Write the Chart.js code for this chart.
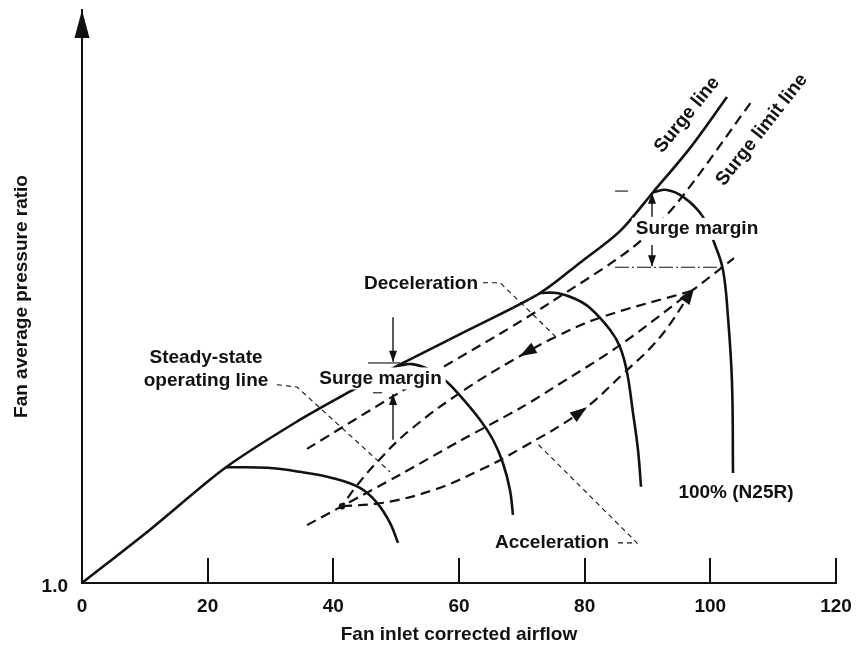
<!DOCTYPE html>
<html>
<head>
<meta charset="utf-8">
<script src="https://cdn.jsdelivr.net/npm/chart.js@4.4.1/dist/chart.umd.min.js"></script>
<style>
  html, body { margin: 0; padding: 0; background: #ffffff; }
  canvas { display: block; }
</style>
</head>
<body>
<canvas id="fanMap" width="858" height="648"></canvas>
<script>
// ---- axis ticks ----
const xTickValues = [0, 20, 40, 60, 80, 100, 120];
const yTickValues = [1.0];
const yTickLabels = ['1.0'];

// ---- map curves: [corrected airflow, pressure ratio] ----
const surgeLine = [
  [0, 1.000], [10.82, 1.093], [22.92, 1.202], [34.70, 1.285], [43.13, 1.337],
  [51.09, 1.384], [61.75, 1.443], [72.89, 1.506], [79.26, 1.559], [85.62, 1.614],
  [90.88, 1.682], [96.76, 1.759], [102.65, 1.848]
];
const surgeLimitLine = [
  [35.81, 1.234], [50.61, 1.333], [66.53, 1.435], [74.48, 1.489],
  [87.69, 1.586], [94.70, 1.663], [106.47, 1.839]
];
const operatingLine = [
  [35.81, 1.101], [41.38, 1.134], [50.61, 1.189], [60.16, 1.248], [69.71, 1.305],
  [74.48, 1.337], [85.62, 1.415], [97.08, 1.510], [103.77, 1.567]
];
const decelPath = [
  [97.08, 1.510], [82.44, 1.463], [75.28, 1.429], [70.82, 1.403], [61.27, 1.340],
  [52.20, 1.267], [46.95, 1.211], [43.45, 1.166], [41.38, 1.134]
];
const accelPath = [
  [41.38, 1.134], [47.90, 1.140], [55.86, 1.162], [63.34, 1.197], [69.71, 1.234],
  [79.26, 1.298], [86.10, 1.365], [91.99, 1.429], [97.08, 1.510]
];
const speedLow = [
  [22.92, 1.202], [29.44, 1.201], [34.70, 1.194], [39.95, 1.183], [44.24, 1.166],
  [46.95, 1.140], [49.02, 1.105], [50.29, 1.070]
];
const speedMid = [
  [50.29, 1.379], [52.52, 1.382], [55.39, 1.372], [57.77, 1.354], [59.68, 1.333],
  [63.34, 1.285], [65.41, 1.250], [67.00, 1.209], [68.12, 1.162], [68.59, 1.119]
];
const speedHigh = [
  [72.89, 1.506], [75.60, 1.506], [78.46, 1.496], [80.85, 1.480], [84.03, 1.442],
  [85.62, 1.412], [86.74, 1.368], [87.69, 1.297], [88.49, 1.232], [88.97, 1.168]
];
const speed100 = [
  [90.88, 1.682], [93.10, 1.686], [95.65, 1.674], [98.83, 1.639], [100.74, 1.590],
  [102.02, 1.546], [102.81, 1.464], [103.45, 1.349], [103.61, 1.192]
];

// ---- annotations (data units) ----
const labels = [
  { lines: ['Surge line'], x: 96.3, y: 1.817, rot: -51 },
  { lines: ['Surge limit line'], x: 108.2, y: 1.791, rot: -52 },
  { lines: ['Surge margin'], x: 97.88, y: 1.618, boxed: true },
  { lines: ['Surge margin'], x: 47.51, y: 1.357, boxed: true },
  { lines: ['Deceleration'], x: 53.95, y: 1.522 },
  { lines: ['Steady-state', 'operating line'], x: 19.74, y: 1.373 },
  { lines: ['Acceleration'], x: 74.80, y: 1.070 },
  { lines: ['100% (N25R)'], x: 104.08, y: 1.157 }
];
const marginArrows = [
  [[49.50, 1.464], [49.50, 1.386]],
  [[49.50, 1.250], [49.50, 1.330]],
  [[90.72, 1.639], [90.72, 1.681]],
  [[90.72, 1.590], [90.72, 1.553]]
];
const marginRefs = [
  [[45.52, 1.384], [50.61, 1.384]],
  [[46.31, 1.332], [47.75, 1.332]],
  [[84.83, 1.684], [86.90, 1.684]]
];
const marginDashDot = [[84.83, 1.551], [102.02, 1.551]];
const leaders = [
  [[63.82, 1.524], [66.53, 1.524], [75.28, 1.431]],
  [[31.03, 1.346], [34.22, 1.342], [49.02, 1.194]],
  [[85.31, 1.070], [88.33, 1.070], [72.41, 1.244]]
];
// arrowheads along the transient paths: centred at "at", or tip at "at" when tip is set
const pathArrows = [
  { path: decelPath, from: 2, at: 3, to: 4 },
  { path: accelPath, from: 4, at: 5, to: 6 },
  { path: accelPath, from: 7, at: 8, to: 8, tip: true }
];
const idlePoint = [41.38, 1.134];

const INK = '#111111';
const FONT_FAMILY = '"Liberation Sans", Arial, Helvetica, sans-serif';
Chart.defaults.font.family = FONT_FAMILY;
Chart.defaults.font.size = 19;
Chart.defaults.font.weight = 'bold';
Chart.defaults.color = INK;

const toPts = arr => arr.map(([x, y]) => ({ x, y }));
const solid = (data, tension) => ({
  data: toPts(data), showLine: true, borderColor: INK, borderWidth: 2.6,
  pointRadius: 0, fill: false, tension: tension
});
const dashed = (data, tension) => ({
  data: toPts(data), showLine: true, borderColor: INK, borderWidth: 2.2,
  borderDash: [10, 6], pointRadius: 0, fill: false, tension: tension
});

const overlay = {
  id: 'overlay',
  afterDraw(chart) {
    const { ctx, chartArea: area, scales: { x, y } } = chart;
    const P = ([vx, vy]) => [x.getPixelForValue(vx), y.getPixelForValue(vy)];
    ctx.save();
    ctx.strokeStyle = INK;
    ctx.fillStyle = INK;

    // inward tick marks on the airflow axis
    ctx.lineWidth = 2;
    xTickValues.forEach(v => {
      if (v === 0) return;
      const px = Math.round(x.getPixelForValue(v));
      ctx.beginPath();
      ctx.moveTo(px, area.bottom);
      ctx.lineTo(px, area.bottom - 25);
      ctx.stroke();
    });

    // arrowhead on the pressure-ratio axis
    const ax = x.getPixelForValue(0);
    ctx.beginPath();
    ctx.moveTo(ax, area.top);
    ctx.lineTo(ax - 7.5, area.top + 28);
    ctx.lineTo(ax + 7.5, area.top + 28);
    ctx.closePath();
    ctx.fill();

    const head = (tx, ty, ang, len, half) => {
      ctx.save();
      ctx.translate(tx, ty);
      ctx.rotate(ang);
      ctx.beginPath();
      ctx.moveTo(0, 0);
      ctx.lineTo(-len, -half);
      ctx.lineTo(-len, half);
      ctx.closePath();
      ctx.fill();
      ctx.restore();
    };

    // arrowheads along acceleration / deceleration paths
    pathArrows.forEach(a => {
      const [fx, fy] = P(a.path[a.from]);
      const [cx, cy] = P(a.path[a.at]);
      const [tx, ty] = P(a.path[a.to]);
      const ang = Math.atan2(ty - fy, tx - fx);
      const len = 17, half = 6;
      if (a.tip) head(cx + 4 * Math.cos(ang), cy + 4 * Math.sin(ang), ang, len, half);
      else head(cx + len / 2 * Math.cos(ang), cy + len / 2 * Math.sin(ang), ang, len, half);
    });

    // idle operating point
    const [dx, dy] = P(idlePoint);
    ctx.beginPath();
    ctx.arc(dx, dy, 3.2, 0, Math.PI * 2);
    ctx.fill();

    // thin leader lines
    ctx.lineWidth = 1.1;
    ctx.setLineDash([5, 4]);
    leaders.forEach(seg => {
      ctx.beginPath();
      seg.forEach((p, i) => {
        const [px, py] = P(p);
        if (i === 0) ctx.moveTo(px, py); else ctx.lineTo(px, py);
      });
      ctx.stroke();
    });

    // dash-dot reference for the upper surge margin
    ctx.setLineDash([14, 3, 2, 3]);
    ctx.beginPath();
    ctx.moveTo(...P(marginDashDot[0]));
    ctx.lineTo(...P(marginDashDot[1]));
    ctx.stroke();
    ctx.setLineDash([]);

    // short reference ticks
    marginRefs.forEach(([a, b]) => {
      ctx.beginPath();
      ctx.moveTo(...P(a));
      ctx.lineTo(...P(b));
      ctx.stroke();
    });

    // text labels
    ctx.font = 'bold 19px ' + FONT_FAMILY;
    ctx.textAlign = 'center';
    ctx.textBaseline = 'middle';
    labels.forEach(l => {
      const [cx, cy] = P([l.x, l.y]);
      const lh = 23;
      ctx.save();
      ctx.translate(cx, cy);
      if (l.rot) ctx.rotate(l.rot * Math.PI / 180);
      if (l.boxed) {
        const w = Math.max(...l.lines.map(t => ctx.measureText(t).width));
        ctx.fillStyle = '#ffffff';
        ctx.fillRect(-w / 2 - 4, -11, w + 8, 22);
        ctx.fillStyle = INK;
      }
      const y0 = -(l.lines.length - 1) * lh / 2;
      l.lines.forEach((t, i) => ctx.fillText(t, 0, y0 + i * lh));
      ctx.restore();
    });

    // surge margin arrows
    ctx.lineWidth = 1.4;
    marginArrows.forEach(([a, b]) => {
      const [x1, y1] = P(a);
      const [x2, y2] = P(b);
      ctx.beginPath();
      ctx.moveTo(x1, y1);
      ctx.lineTo(x2, y2);
      ctx.stroke();
      head(x2, y2, Math.atan2(y2 - y1, x2 - x1), 11, 4);
    });

    ctx.restore();
  }
};

new Chart(document.getElementById('fanMap'), {
  type: 'scatter',
  data: {
    datasets: [
      solid(surgeLine, 0.3),
      solid(speedLow, 0.4),
      solid(speedMid, 0.4),
      solid(speedHigh, 0.4),
      solid(speed100, 0.4),
      dashed(surgeLimitLine, 0.3),
      dashed(operatingLine, 0.3),
      dashed(decelPath, 0.4),
      dashed(accelPath, 0.4)
    ]
  },
  options: {
    responsive: false,
    animation: false,
    events: [],
    layout: { padding: { left: 0, right: 22, top: 10, bottom: 0 } },
    plugins: { legend: { display: false }, tooltip: { enabled: false } },
    scales: {
      x: {
        type: 'linear', min: 0, max: 120,
        afterBuildTicks: s => { s.ticks = xTickValues.map(v => ({ value: v })); },
        afterFit: s => { s.height = 65; s.paddingLeft = 0; s.paddingRight = 0; },
        ticks: { padding: 12, color: INK, maxRotation: 0 },
        grid: { display: false, drawTicks: false },
        border: { display: true, color: INK, width: 2 },
        title: {
          display: true, text: 'Fan inlet corrected airflow', color: INK,
          padding: { top: 0, bottom: 2 }
        }
      },
      y: {
        type: 'linear', min: 1, max: 2,
        afterBuildTicks: s => { s.ticks = yTickValues.map(v => ({ value: v })); },
        afterFit: s => { s.width = 82; s.paddingTop = 0; s.paddingBottom = 0; },
        ticks: {
          padding: 14, color: INK, labelOffset: 4,
          callback: (v) => yTickLabels[yTickValues.indexOf(v)] ?? ''
        },
        grid: { display: false, drawTicks: false },
        border: { display: true, color: INK, width: 2 },
        title: {
          display: true, text: 'Fan average pressure ratio', color: INK,
          padding: { top: 10, bottom: 0 }
        }
      }
    }
  },
  plugins: [overlay]
});
</script>
</body>
</html>
